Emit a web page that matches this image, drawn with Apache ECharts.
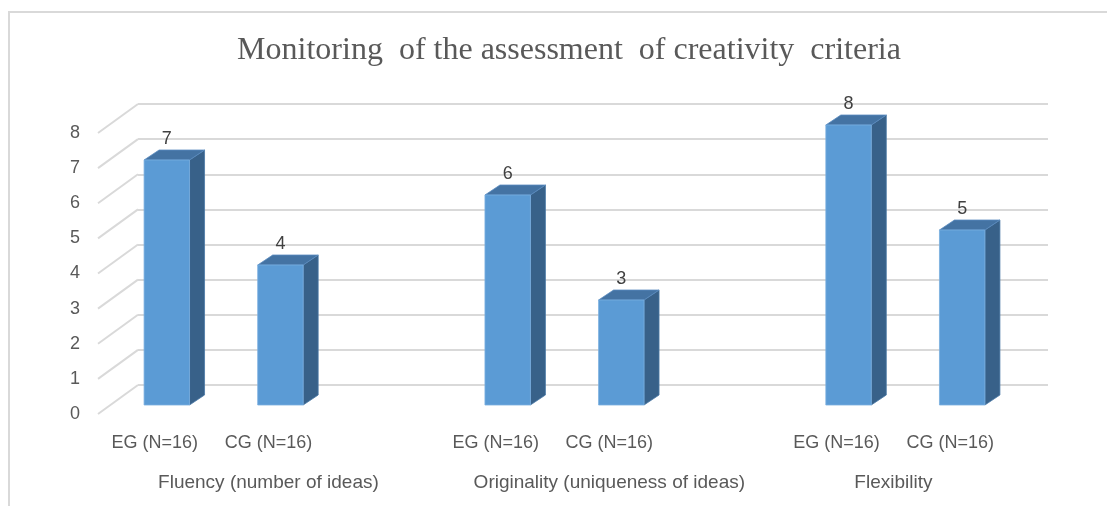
<!DOCTYPE html>
<html>
<head>
<meta charset="utf-8">
<script src="https://cdn.jsdelivr.net/npm/echarts@6/dist/echarts.min.js"></script>
<style>
  html, body { margin: 0; padding: 0; background: #ffffff; }
  #frame { position: absolute; left: 8px; top: 11px; width: 1200px; height: 600px; border: 2px solid #d9d9d9; box-sizing: border-box; }
  #chart { position: absolute; left: 0; top: 0; width: 1107px; height: 506px; }
</style>
</head>
<body>
<div id="frame"></div>
<div id="chart"></div>
<script>
// ---------- data ----------
var title = 'Monitoring  of the assessment  of creativity  criteria';
var groupNames = ['Fluency (number of ideas)', 'Originality (uniqueness of ideas)', 'Flexibility'];
var seriesLabels = ['EG (N=16)', 'CG (N=16)'];
var egValues = [7, 6, 8];
var cgValues = [4, 3, 5];
var yTicks = [0, 1, 2, 3, 4, 5, 6, 7, 8];

// ---------- build category slots (as in the source sheet: blank row between groups) ----------
var categories = [];
var slotValues = [];
var groupSpans = [];
groupNames.forEach(function (g, gi) {
  var span = 0;
  categories.push(seriesLabels[0]); slotValues.push(egValues[gi]); span++;
  categories.push(seriesLabels[1]); slotValues.push(cgValues[gi]); span++;
  if (gi < groupNames.length - 1) { categories.push(''); slotValues.push(null); span++; }
  groupSpans.push(span);
});
var nSlots = categories.length;
var groupCenters = [];
var acc = 0;
groupSpans.forEach(function (s) { groupCenters.push(acc + s / 2); acc += s; });

var barData = slotValues.map(function (v, i) { return v == null ? [i, '-'] : [i, v]; });

// ---------- styles ----------
var textColor = '#595959';
var gridColor = '#d9d9d9';
var depthWall = [40, -29];   // perspective offset front -> back wall
var depthBar = [15, -10];    // bar depth
var font = 'Liberation Sans, Arial, sans-serif';

var chart = echarts.init(document.getElementById('chart'), null, { renderer: 'canvas' });

var option = {
  backgroundColor: 'transparent',
  animation: false,
  title: {
    text: title,
    left: 564, top: 30, textAlign: 'center',
    textStyle: { fontFamily: 'Liberation Serif, Times New Roman, serif', fontSize: 32, fontWeight: 'normal', color: textColor }
  },
  grid: [
    // 0: front plane (labels, diagonals)
    { left: 98, right: 100, top: 133, bottom: 92 },
    // 1: back wall
    { left: 138, right: 59, top: 104, bottom: 121 },
    // 2: bars
    { left: 110, right: 88, top: 125, bottom: 101 }
  ],
  xAxis: [
    { gridIndex: 0, type: 'category', data: categories, boundaryGap: true,
      axisLine: { show: false }, axisTick: { show: false },
      axisLabel: { interval: 0, margin: 20, fontSize: 18, color: textColor, fontFamily: font } },
    { gridIndex: 0, type: 'value', position: 'bottom', min: 0, max: nSlots, interval: 0.5,
      splitLine: { show: false }, axisLine: { show: false }, axisTick: { show: false },
      axisLabel: { margin: 59, fontSize: 19, color: textColor, fontFamily: font, showMinLabel: true, showMaxLabel: true,
        formatter: function (v) { var k = groupCenters.indexOf(v); return k >= 0 ? groupNames[k] : ''; } } },
    { gridIndex: 1, type: 'value', min: 0, max: 1, show: false, splitLine: { show: false } },
    { gridIndex: 2, type: 'category', data: categories, show: false }
  ],
  yAxis: [
    { gridIndex: 0, type: 'value', min: 0, max: 8, interval: 1,
      splitLine: { show: false }, axisLine: { show: false }, axisTick: { show: false },
      axisLabel: { margin: 18, fontSize: 18, color: textColor, fontFamily: font } },
    { gridIndex: 1, type: 'value', min: 0, max: 8, interval: 1,
      axisLabel: { show: false }, axisLine: { show: false }, axisTick: { show: false },
      splitLine: { show: true, lineStyle: { color: gridColor, width: 2 } } },
    { gridIndex: 2, type: 'value', min: 0, max: 8, interval: 1, show: false, splitLine: { show: false } }
  ],
  series: [
    {
      type: 'custom', xAxisIndex: 1, yAxisIndex: 0, z: 1,
      data: yTicks.map(function (t) { return [0, t]; }),
      renderItem: function (params, api) {
        var p = api.coord([api.value(0), api.value(1)]);
        return { type: 'line', shape: { x1: p[0], y1: p[1], x2: p[0] + depthWall[0], y2: p[1] + depthWall[1] },
          style: { stroke: gridColor, lineWidth: 2 } };
      }
    },
    {
      type: 'custom', xAxisIndex: 3, yAxisIndex: 2, z: 5,
      data: barData,
      renderItem: function (params, api) {
        var v = api.value(1);
        if (isNaN(v)) return null;
        var top = api.coord([api.value(0), v]);
        var base = api.coord([api.value(0), 0]);
        var w = api.size([1, 0])[0] * 0.4;
        var x0 = top[0] - w / 2, x1 = top[0] + w / 2;
        var yT = top[1], yB = base[1];
        var dx = depthBar[0], dy = depthBar[1];
        return {
          type: 'group',
          children: [
            { type: 'polygon', shape: { points: [[x1, yT], [x1 + dx, yT + dy], [x1 + dx, yB + dy], [x1, yB]] },
              style: { fill: '#386189', stroke: '#4a78a6', lineWidth: 0.8 } },
            { type: 'polygon', shape: { points: [[x0, yT], [x0 + dx, yT + dy], [x1 + dx, yT + dy], [x1, yT]] },
              style: { fill: '#4473a3', stroke: '#5a8cc0', lineWidth: 0.8 } },
            { type: 'rect', shape: { x: x0, y: yT, width: w, height: yB - yT },
              style: { fill: '#5b9bd5', stroke: '#7aaee0', lineWidth: 0.8 } },
            { type: 'text', style: { text: String(v), x: top[0], y: yT - 12, align: 'center', verticalAlign: 'bottom',
              fill: '#404040', font: '18px ' + font } }
          ]
        };
      }
    }
  ]
};
chart.setOption(option);
</script>
</body>
</html>
